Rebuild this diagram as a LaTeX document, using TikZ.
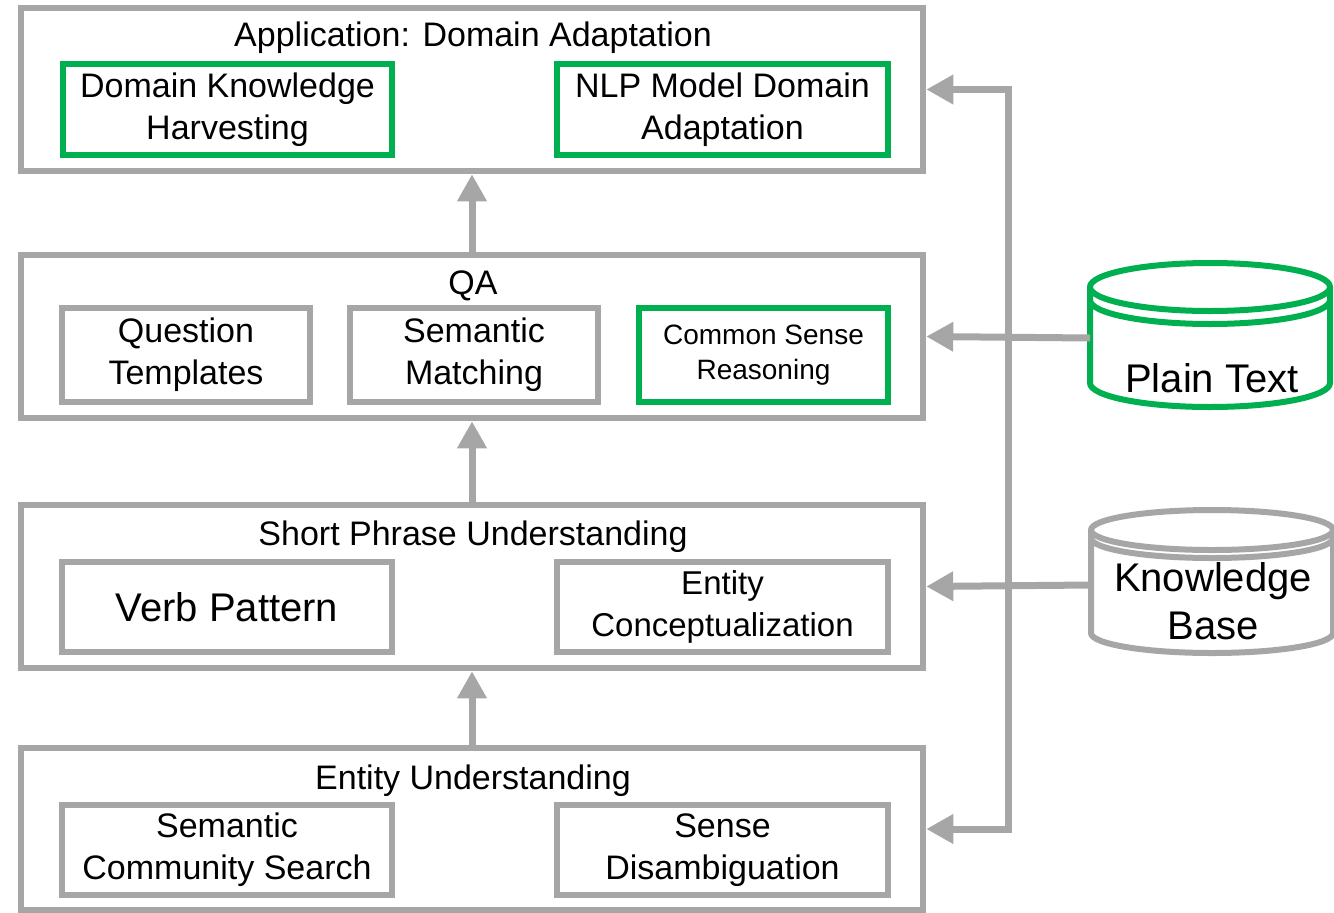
\documentclass[tikz,border=0pt]{standalone}
\usepackage{fontspec}
\setmainfont{Liberation Sans}
\usetikzlibrary{arrows.meta}
\definecolor{frame}{HTML}{A6A6A6}
\definecolor{accent}{HTML}{00B050}
\tikzset{
  layer/.style={draw=frame, line width=6.5pt, fill=white, rectangle, inner sep=0pt},
  part/.style={draw=frame, line width=6pt, fill=white, rectangle, inner sep=0pt,
    align=center, font=\fontsize{34}{42}\selectfont},
  keypart/.style={part, draw=accent},
  title/.style={inner sep=0pt, font=\fontsize{34}{41}\selectfont},
  flow/.style={draw=frame, line width=7pt, line join=miter,
    -{Triangle[width=28pt,length=27pt]}},
  store/.style={line width=6pt, fill=white},
}
\begin{document}
\begin{tikzpicture}[x=1pt, y=-1pt]
\useasboundingbox (0,0) rectangle (1334,913);

% layers
\node[layer, minimum width=902pt, minimum height=163pt] (app) at (472,89.5) {};
\node[layer, minimum width=902pt, minimum height=163pt] (qa)  at (472,336.5) {};
\node[layer, minimum width=902pt, minimum height=163pt] (spu) at (472,586.5) {};
\node[layer, minimum width=902pt, minimum height=162pt] (eu)  at (472,829) {};

% layer titles
\node[title] (appT) at (473,38)  {Application: Domain Adaptation};
\node[title] (qaT)  at (473,286) {QA};
\node[title] (spuT) at (473,537) {Short Phrase Understanding};
\node[title] (euT)  at (473,781) {Entity Understanding};

% components
\node[keypart, minimum width=329pt, minimum height=91pt] (dkh) at (227.5,109.5) {Domain Knowledge\\Harvesting};
\node[keypart, minimum width=331pt, minimum height=91pt] (nlp) at (722.5,109.5) {NLP Model Domain\\Adaptation};

\node[part, minimum width=248pt, minimum height=94pt] (qt) at (186,355) {Question\\Templates};
\node[part, minimum width=248pt, minimum height=94pt] (sm) at (474,355) {Semantic\\Matching};
\node[keypart, minimum width=249pt, minimum height=94pt, font=\fontsize{28}{35}\selectfont] (csr) at (763.5,355) {Common Sense\\Reasoning};

\node[part, minimum width=330pt, minimum height=90pt, font=\fontsize{40}{48}\selectfont] (vp) at (227,607) {Verb Pattern};
\node[part, minimum width=331pt, minimum height=90pt, font=\fontsize{33}{42}\selectfont] (ec) at (722.5,607) {Entity\\Conceptualization};

\node[part, minimum width=330pt, minimum height=90pt] (scs) at (227,850) {Semantic\\Community Search};
\node[part, minimum width=331pt, minimum height=90pt] (sd)  at (722.5,850) {Sense\\Disambiguation};

% data stores
\draw[store, draw=accent] (1090,287) -- (1090,383)
  arc[start angle=180, end angle=0, x radius=120, y radius=24] -- (1330,287);
\draw[store, draw=accent] (1210,287) ellipse [x radius=120, y radius=24];
\draw[store, draw=accent, fill=none] (1090,300)
  arc[start angle=180, end angle=0, x radius=120, y radius=24];
\node[inner sep=0pt, font=\fontsize{40}{48}\selectfont] (plain) at (1212,378) {Plain Text};
\coordinate (plainL) at (1090,338);

\draw[store, draw=frame] (1091,530) -- (1091,633)
  arc[start angle=180, end angle=0, x radius=121, y radius=20] -- (1333,530);
\draw[store, draw=frame] (1212,530) ellipse [x radius=121, y radius=20];
\draw[store, draw=frame, fill=none] (1091,538)
  arc[start angle=180, end angle=0, x radius=121, y radius=20];
\node[inner sep=0pt, align=center, font=\fontsize{40}{48}\selectfont] (kb) at (1213,601) {Knowledge\\Base};
\coordinate (kbL) at (1091,585);

% bus feeding the layers
\coordinate (busTop) at (1008,89.5);
\coordinate (busBot) at (1008,829);
\draw[flow, {Triangle[width=28pt,length=27pt]}-{Triangle[width=28pt,length=27pt]}]
  (app.east) -- (busTop) -- (busBot) -- (eu.east);
\draw[flow] (plainL) -- (qa.east);
\draw[flow] (kbL) -- (spu.east);

% upward flow between layers
\draw[flow] (qa.north) -- (app.south);
\draw[flow] (spu.north) -- (qa.south);
\draw[flow] (eu.north) -- (spu.south);
\end{tikzpicture}
\end{document}
